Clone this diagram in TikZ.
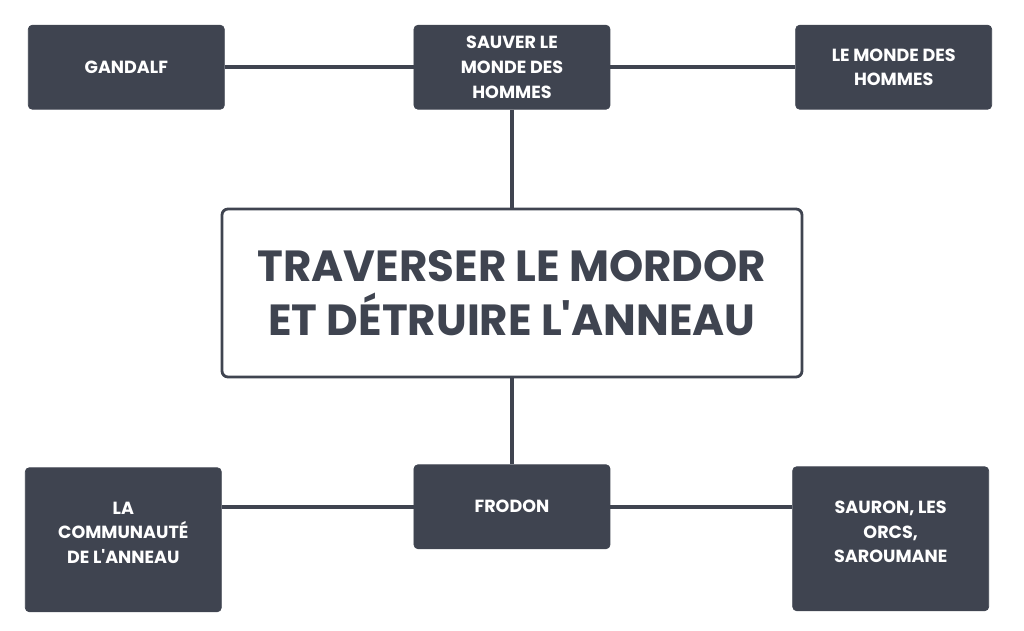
\documentclass[tikz,border=0pt]{standalone}
\usepackage{fontspec}
\setmainfont{Poppins}
\definecolor{mapSlate}{RGB}{63,68,80}
\usetikzlibrary{positioning}

\begin{document}
\begin{tikzpicture}[
  tag/.style={draw=mapSlate, fill=mapSlate, rounded corners=0.08cm,
              minimum width=3.92cm, minimum height=1.68cm, text=white,
              font=\bfseries\fontsize{10}{14}\selectfont, align=center},
  tall/.style={tag, minimum height=2.88cm, text depth=0.28cm},
  link/.style={draw=mapSlate, line width=2.5pt}
]
  \useasboundingbox (-10.24,-6.76) rectangle (10.24,5.86);
  \node[draw=mapSlate, line width=1.6pt, fill=white, rounded corners=0.12cm,
        minimum width=11.6cm, minimum height=3.36cm, text=mapSlate,
        font=\bfseries\fontsize{24.8}{31}\selectfont, align=center]
        (goal) at (0,0) {TRAVERSER LE MORDOR\\ET DÉTRUIRE L\textquotesingle ANNEAU};
  \node[tag, above=1.96cm of goal] (save) {SAUVER LE\\MONDE DES\\HOMMES};
  \node[tag, left=3.78cm of save] (gandalf) {GANDALF};
  \node[tag, right=3.7cm of save] (men) {LE MONDE DES\\HOMMES};
  \node[tag, below=1.72cm of goal] (frodo) {FRODON};
  \node[tall, left=3.84cm of frodo.north west, anchor=north east, yshift=-0.06cm]
        (fellow) {LA\\COMMUNAUTÉ\\DE L\textquotesingle ANNEAU};
  \node[tall, right=3.64cm of frodo.north east, anchor=north west, yshift=-0.04cm]
        (enemies) {SAURON, LES\\ORCS,\\SAROUMANE};

  \draw[link] (gandalf) -- (save);
  \draw[link] (save) -- (men);
  \draw[link] (save) -- (goal);
  \draw[link] (goal) -- (frodo);
  \draw[link] (frodo.west) -- (frodo.west -| fellow.east);
  \draw[link] (frodo.east) -- (frodo.east -| enemies.west);
\end{tikzpicture}
\end{document}
